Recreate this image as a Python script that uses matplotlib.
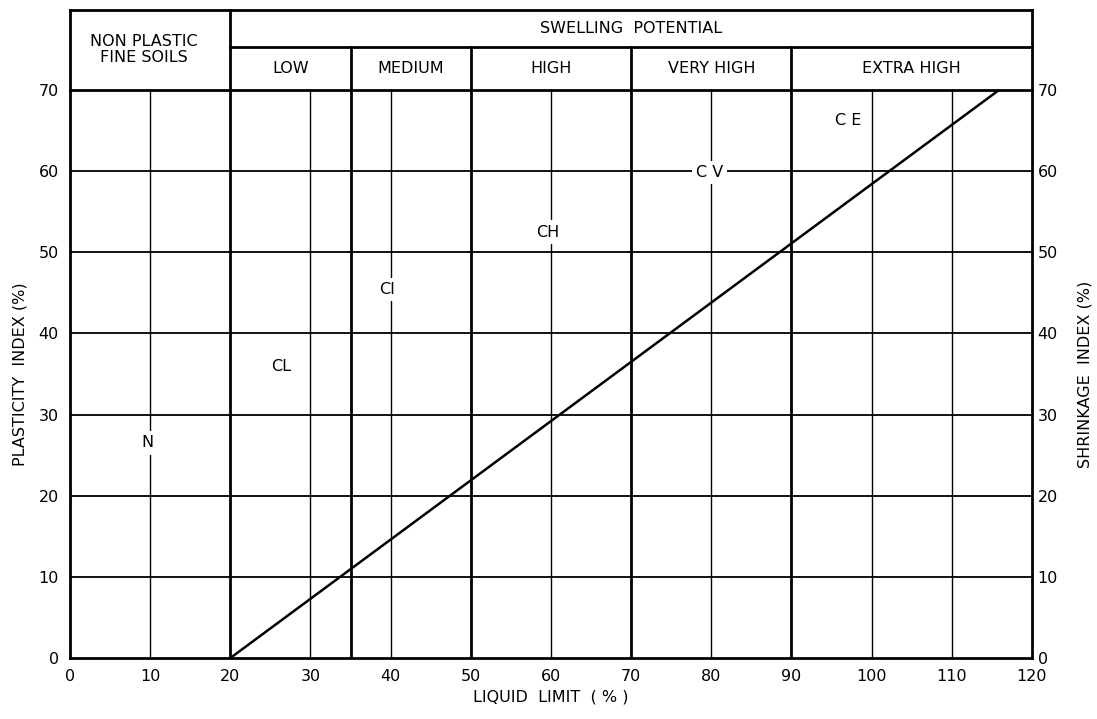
"""
Plasticity chart: liquid limit vs plasticity index with swelling potential bands
"""
import matplotlib
matplotlib.use("Agg")
import matplotlib.pyplot as plt
import numpy as np

plt.rcParams["font.family"] = "DejaVu Sans"

# ── Data ──────────────────────────────────────────────────────────────────────
band_edges   = [20, 35, 50, 70, 90, 120]
band_names   = ["LOW", "MEDIUM", "HIGH", "VERY HIGH", "EXTRA HIGH"]
grid_x       = [10, 30, 40, 60, 80, 100, 110]
grid_y       = [10, 20, 30, 40, 50, 60]
x_ticks      = list(range(0, 121, 10))
y_ticks      = list(range(0, 71, 10))

# A-line: PI = 0.73 (LL - 20)
aline_ll     = [20, 115.9]
aline_pi     = [0.73 * (v - 20) for v in aline_ll]

zone_names   = ["N", "CL", "CI", "CH", "C V", "C E"]
zone_ll      = [9.7, 26.3, 39.5, 59.6, 79.8, 97.1]
zone_pi      = [26.5, 35.9, 45.4, 52.5, 59.8, 66.2]

FS = 11.5

# ── Figure ────────────────────────────────────────────────────────────────────
fig = plt.figure(figsize=(10.97, 7.19), dpi=100)
ax = fig.add_axes([0.0638, 0.0848, 0.8769, 0.7900])
ax.set_xlim(0, 120)
ax.set_ylim(0, 70)

for s in ax.spines.values():
    s.set_linewidth(2.0)

# light grid
for gx in grid_x:
    ax.axvline(gx, color="black", lw=1.0, zorder=1)
for gy in grid_y:
    ax.axhline(gy, color="black", lw=1.3, zorder=1)
# heavy band boundaries
for bx in band_edges[:-1]:
    ax.axvline(bx, color="black", lw=2.0, zorder=1)

ax.plot(aline_ll, aline_pi, color="black", lw=1.8, zorder=2)

for name, lx, ly in zip(zone_names, zone_ll, zone_pi):
    ax.text(lx, ly, name, ha="center", va="center", fontsize=FS, zorder=3,
            bbox=dict(facecolor="white", edgecolor="none", pad=3))

# ── Header boxes above the plot ───────────────────────────────────────────────
y_mid, y_top = 75.3, 79.9
hkw = dict(color="black", lw=2.0, clip_on=False, solid_capstyle="projecting")
ax.plot([0, 120], [y_top, y_top], **hkw)
ax.plot([20, 120], [y_mid, y_mid], **hkw)
ax.plot([0, 0], [70, y_top], **hkw)
ax.plot([120, 120], [70, y_top], **hkw)
ax.plot([20, 20], [70, y_top], **hkw)
for bx in band_edges[1:-1]:
    ax.plot([bx, bx], [70, y_mid], **hkw)

ax.text(9.2, 75.0, "NON PLASTIC\nFINE SOILS", ha="center",
        va="center", fontsize=FS, linespacing=1.15)
ax.text(70, (y_mid + y_top) / 2, "SWELLING  POTENTIAL", ha="center",
        va="center", fontsize=FS)
for lo, hi, name in zip(band_edges[:-1], band_edges[1:], band_names):
    ax.text((lo + hi) / 2, (70 + y_mid) / 2, name, ha="center", va="center",
            fontsize=FS)

# ── Axes, ticks, labels ───────────────────────────────────────────────────────
ax.set_xticks(x_ticks)
ax.set_yticks(y_ticks)
ax.tick_params(length=0, labelsize=FS, pad=8)
ax.set_xlabel("LIQUID  LIMIT  ( % )", fontsize=FS, labelpad=4)
ax.set_ylabel("PLASTICITY  INDEX (%)", fontsize=FS, labelpad=8)

ax2 = ax.twinx()
ax2.set_ylim(0, 70)
ax2.set_yticks(y_ticks)
ax2.tick_params(length=0, labelsize=FS, pad=4)
ax2.set_ylabel("SHRINKAGE  INDEX (%)", fontsize=FS, labelpad=14)
for s in ax2.spines.values():
    s.set_visible(False)

fig.savefig("out.png", dpi=100)
